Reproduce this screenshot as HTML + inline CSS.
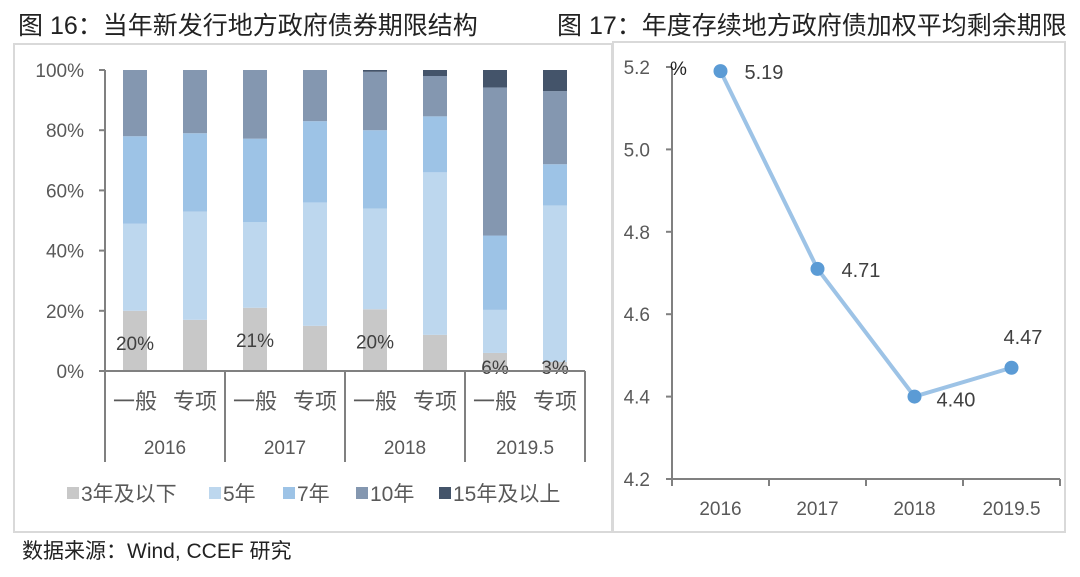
<!DOCTYPE html>
<html><head><meta charset="utf-8">
<style>
body{margin:0;background:#fff;width:1080px;height:572px;overflow:hidden;font-family:"Liberation Sans","Noto Sans CJK SC",sans-serif}
svg text{font-family:"Liberation Sans","Noto Sans CJK SC",sans-serif}
</style></head><body>
<svg width="1080" height="572">
<text x="18" y="34" font-size="25" fill="#222">图 16：当年新发行地方政府债券期限结构</text>
<text x="557" y="34" font-size="25" fill="#222">图 17：年度存续地方政府债加权平均剩余期限</text>
<rect x="14" y="44" width="598" height="488" fill="none" stroke="#d9d9d9" stroke-width="2"/>
<rect x="613" y="42" width="452" height="490" fill="none" stroke="#d9d9d9" stroke-width="2"/>
<g id="left"></g>
<g id="right"></g>
<text x="22" y="558" font-size="21" fill="#222">数据来源：Wind, CCEF 研究</text>
</svg>
<script>
const barCats=["一般","专项","一般","专项","一般","专项","一般","专项"];
const groups=["2016","2017","2018","2019.5"];
const s3=[20,17,21,15,20.5,12,6,3];
const s5=[29,36,28.5,41,33.5,54,14.3,52];
const s7=[29,26,27.7,27,26,18.6,24.7,13.7];
const s10=[22,21,22.8,17,19.4,13.4,49.2,24.3];
const s15=[0,0,0,0,0.6,2,5.8,7];
const seriesNames=["3年及以下","5年","7年","10年","15年及以上"];
const barLabels=["20%","","21%","","20%","","6%","3%"];
const yTicks=[0,20,40,60,80,100];
const lineCats=["2016","2017","2018","2019.5"];
const lineVals=[5.19,4.71,4.40,4.47];
const lineTicks=[4.2,4.4,4.6,4.8,5.0,5.2];

const NS="http://www.w3.org/2000/svg";
function mk(p,t,a){const e=document.createElementNS(NS,t);for(const k in a)e.setAttribute(k,a[k]);p.appendChild(e);return e;}
const colors=["#c8c8c8","#bdd7ee","#9dc3e6","#8497b0","#44546a"];
const L=document.getElementById('left');
const y0=371,y1=70,ax=105;
const ys=v=>y0-(v/100)*(y0-y1);
const xs=i=>135+i*60;
const gray="#595959";
yTicks.forEach(t=>{
 const tx=mk(L,'text',{x:84,y:ys(t)+7,'font-size':19,fill:gray,'text-anchor':'end'});tx.textContent=t+"%";
 
 
 const tk=mk(L,'line',{x1:ax-6,x2:ax,y1:ys(t),y2:ys(t),stroke:'#808080','stroke-width':2});
 
 
});
const series=[s3,s5,s7,s10,s15];
barCats.forEach((c,i)=>{
 let acc=0;
 series.forEach((s,j)=>{
  const r=mk(L,'rect',{x:xs(i)-12,y:ys(acc+s[i]),width:24,height:ys(acc)-ys(acc+s[i]),fill:colors[j]});
  
  
  acc+=s[i];
 });
 if(barLabels[i]){const t=mk(L,'text',{x:xs(i),y:Math.min(ys(s3[i])+39,374),'font-size':19,fill:'#404040','text-anchor':'middle'});t.textContent=barLabels[i];
 
 }
 const ct=mk(L,'text',{x:xs(i),y:409,'font-size':22,fill:gray,'text-anchor':'middle'});ct.textContent=c;
 
 
});
const ya=mk(L,'line',{x1:ax,x2:ax,y1:y1,y2:y0,stroke:'#808080','stroke-width':2});


const xa=mk(L,'line',{x1:ax-6,x2:585,y1:y0,y2:y0,stroke:'#808080','stroke-width':2});


for(let g=0;g<=groups.length;g++){
 const x=ax+g*120;
 const l=mk(L,'line',{x1:x,x2:x,y1:y0,y2:462,stroke:'#808080','stroke-width':2});
 
 
 if(g<groups.length){const t=mk(L,'text',{x:x+60,y:454,'font-size':19,fill:gray,'text-anchor':'middle'});t.textContent=groups[g];
 
 }
}
const legX=[67,209,283,356,439];
seriesNames.forEach((n,j)=>{
 const r=mk(L,'rect',{x:legX[j],y:487,width:12,height:12,fill:colors[j]});
 
 
 const t=mk(L,'text',{x:legX[j]+14,y:501,'font-size':21,fill:gray});t.textContent=n;
 
 
});

const R=document.getElementById('right');
const rx0=672,rx1=1060,ry0=479,ry1=67;
const rys=v=>ry0-(v-4.2)/1.0*(ry0-ry1);
const step=(rx1-rx0)/lineCats.length;
const rxs=i=>rx0+step*(i+0.5);
lineTicks.forEach(t=>{
 const tx=mk(R,'text',{x:650,y:rys(t)+7,'font-size':19,fill:gray,'text-anchor':'end'});tx.textContent=t.toFixed(1);
 
 
 const tk=mk(R,'line',{x1:rx0-6,x2:rx0,y1:rys(t),y2:rys(t),stroke:'#808080','stroke-width':2});
 
 
});
const rya=mk(R,'line',{x1:rx0,x2:rx0,y1:ry1,y2:ry0,stroke:'#808080','stroke-width':2});


const rxa=mk(R,'line',{x1:rx0-6,x2:rx1,y1:ry0,y2:ry0,stroke:'#808080','stroke-width':2});


for(let i=0;i<=lineCats.length;i++){const tk=mk(R,'line',{x1:rx0+step*i,x2:rx0+step*i,y1:ry0,y2:ry0+7,stroke:'#808080','stroke-width':2});
 
 }
const pu=mk(R,'text',{x:670,y:75,'font-size':19,fill:'#222'});pu.textContent="%";


const pl=mk(R,'polyline',{points:lineVals.map((v,i)=>rxs(i)+','+rys(v)).join(' '),fill:'none',stroke:'#9dc3e6','stroke-width':4});


const offs=[[24,8],[24,8],[22,10],[-8,-24]];
lineVals.forEach((v,i)=>{
 const c=mk(R,'circle',{cx:rxs(i),cy:rys(v),r:7,fill:'#5b9bd5'});
 
 
 const t=mk(R,'text',{x:rxs(i)+offs[i][0],y:rys(v)+offs[i][1],'font-size':20,fill:'#404040'});t.textContent=v.toFixed(2);
 
 
 const xl=mk(R,'text',{x:rxs(i),y:515,'font-size':19,fill:gray,'text-anchor':'middle'});xl.textContent=lineCats[i];
 
 
});
</script>
</body></html>
